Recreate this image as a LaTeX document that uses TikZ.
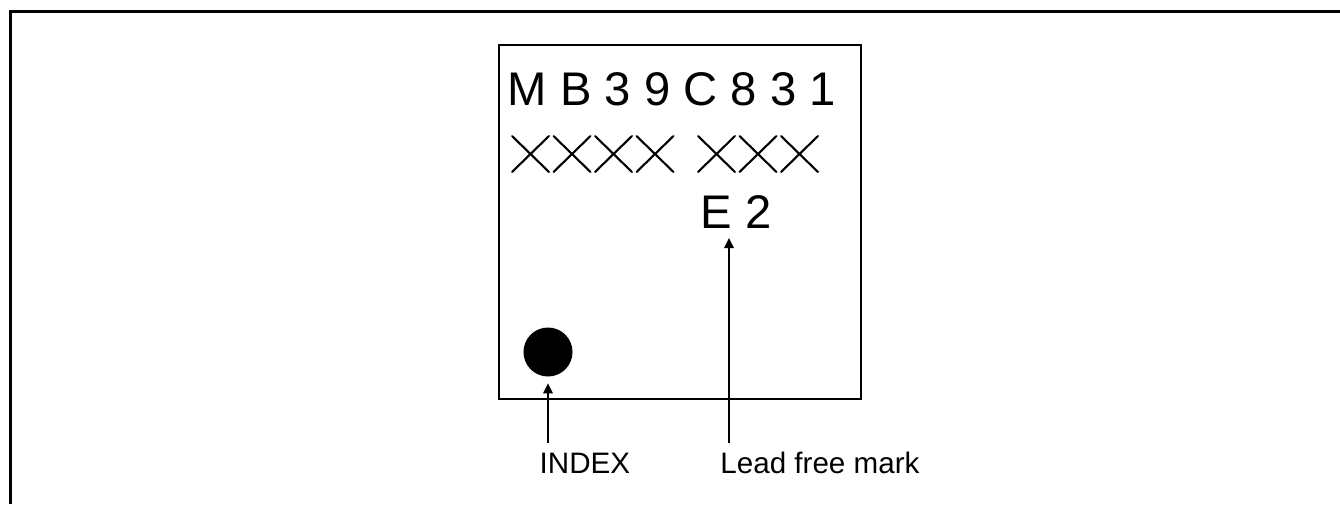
\documentclass[tikz,border=0pt]{standalone}
\usepackage{fontspec}
\setmainfont{Liberation Sans}
\usetikzlibrary{arrows.meta,positioning}
\tikzset{
  frame/.style={draw=black, line width=1.5pt},
  chip/.style={draw=black, line width=1.25pt},
  cross/.style={draw=black, line width=1.05pt, line cap=round},
  chiptext/.style={font=\fontsize{23.6}{28}\selectfont, inner sep=0pt, anchor=base west},
  lab/.style={font=\fontsize{14.8}{17}\selectfont, inner sep=0pt, anchor=base west},
  pointer/.style={draw=black, line width=0.75pt, -{Triangle[length=5pt,width=4.8pt]}},
  dot/.style={circle, fill=black, inner sep=0pt, minimum size=24.5pt},
}
\begin{document}
\begin{tikzpicture}[x=0.5pt,y=-0.5pt]
\useasboundingbox (0,0) rectangle (1340,504);
% outer frame, top and left only
\draw[frame] (10.5,504) |- (1340,11.3);
% package outline
\draw[chip] (499,45) rectangle (861,399);
\node[chiptext] (part) at (507.5,105) {M B 3 9 C 8 3 1};
\foreach \x in {512,553.5,595,636.5,698,739.5,781}{
  \draw[cross] (\x,136) -- (\x+37,172) (\x,172) -- (\x+37,136);
}
\node[chiptext] (leadfree) at (700.3,228) {E 2};
\node[dot] (index) at (548,352) {};
% labels and pointers
\node[lab] (indexlab) at (539.3,473) {INDEX};
\node[lab] (leadlab) at (720,473) {Lead free mark};
\coordinate (indexfoot) at (548,443);
\coordinate (leadfoot) at (729,443);
\coordinate (leadtip) at (729,238);
\draw[pointer, shorten >=3.25pt] (indexfoot) -- (index.south);
\draw[pointer] (leadfoot) -- (leadtip);
\end{tikzpicture}
\end{document}
